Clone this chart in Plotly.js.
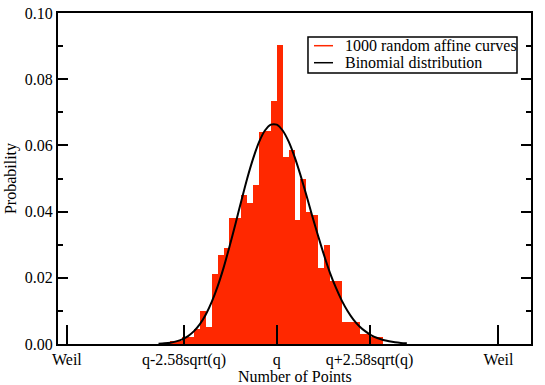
<!DOCTYPE html>
<html>
<head>
<meta charset="utf-8">
<script src="https://cdn.plot.ly/plotly-3.0.1.min.js"></script>
<style>
  html, body { margin: 0; padding: 0; background: #fff; }
  #chart { width: 545px; height: 385px; }
</style>
</head>
<body>
<div id="chart"></div>
<script>
// ── DATA ────────────────────────────────────────────
// histogram: bin centres (number of points) and probabilities
const BIN_X = [
  19.5, 20.5, 21.5, 22.5, 23.5, 24.5, 25.5, 26.5, 27.5, 28.5, 29.5, 30.5,
  31.5, 32.5, 33.5, 34.5, 35.5, 36.5, 37.5, 38.5, 39.5, 40.5, 41.5, 42.5,
  43.5, 44.5, 45.5, 46.5, 47.5, 48.5, 49.5, 50.5, 51.5, 52.5, 53.5, 54.5
];
const BIN_P = [
  0.001, 0.001, 0.002, 0.002, 0.0045, 0.010, 0.005, 0.021, 0.027, 0.029, 0.038, 0.038,
  0.045, 0.0425, 0.048, 0.064, 0.0645, 0.0733, 0.0903, 0.0565, 0.0585, 0.0375, 0.050, 0.040,
  0.039, 0.023, 0.030, 0.019, 0.019, 0.0065, 0.0065, 0.0065, 0.003, 0.003, 0.002, 0.002
];

// binomial curve
const CURVE_X = [
  17, 18, 19, 20, 21, 22, 23, 24, 25, 26, 27, 28, 29, 30, 31, 32, 33, 34, 35, 36, 37, 38,
  39, 40, 41, 42, 43, 44, 45, 46, 47, 48, 49, 50, 51, 52, 53, 54, 55, 56, 57, 58, 59
];
const CURVE_P = [
  0.0001, 0.0002, 0.0004, 0.0008, 0.0014, 0.0024, 0.0039, 0.0060, 0.0089, 0.0127, 0.0174,
  0.0230, 0.0294, 0.0362, 0.0432, 0.0500, 0.0560, 0.0610, 0.0645, 0.0663, 0.0663, 0.0645,
  0.0612, 0.0566, 0.0511, 0.0450, 0.0387, 0.0326, 0.0268, 0.0215, 0.0170, 0.0131, 0.0099,
  0.0073, 0.0053, 0.0038, 0.0026, 0.0018, 0.0012, 0.0008, 0.0005, 0.0003, 0.0002
];

// x ticks: Weil bounds, q ± 2.58 sqrt(q), q  (q = 37)
const X_TICKS  = [1.5, 21.31, 37, 52.69, 74.5];
const X_LABELS = ['Weil', 'q-2.58sqrt(q)', 'q', 'q+2.58sqrt(q)', 'Weil'];

const SERIES_NAMES = ['1000 random affine curves', 'Binomial distribution'];
const SERIES_COLORS = ['#ff2800', '#000'];

// ── STYLE ───────────────────────────────────────────
const FONT = { family: '"Liberation Serif", "DejaVu Serif", serif', color: '#000', size: 16 };

// ── TRACES ──────────────────────────────────────────
const traces = [
  {
    type: 'bar', x: BIN_X, y: BIN_P, width: 1,
    marker: { color: SERIES_COLORS[0], line: { width: 0 } },
    name: SERIES_NAMES[0], hoverinfo: 'skip'
  },
  {
    type: 'scatter', mode: 'lines', x: CURVE_X, y: CURVE_P,
    name: SERIES_NAMES[1],
    line: { color: SERIES_COLORS[1], width: 2, shape: 'spline', smoothing: 0.6 }
  }
];

// ── LEGEND (grace style box, drawn by hand) ─────────
const LEG = { x0: 0.5285, x1: 0.9704, y0: 0.8187, y1: 0.9275, rows: [0.9012, 0.8498] };
const shapes = [
  { type: 'rect', xref: 'paper', yref: 'paper', x0: LEG.x0, x1: LEG.x1, y0: LEG.y0, y1: LEG.y1,
    line: { color: '#000', width: 1.5 }, fillcolor: '#fff', layer: 'above' }
];
const annotations = [];
SERIES_NAMES.forEach((name, i) => {
  shapes.push({ type: 'line', xref: 'paper', yref: 'paper', x0: 0.5412, x1: 0.5814,
    y0: LEG.rows[i], y1: LEG.rows[i], line: { color: SERIES_COLORS[i], width: 1.5 }, layer: 'above' });
  annotations.push({ xref: 'paper', yref: 'paper', x: 0.6025, y: LEG.rows[i],
    xanchor: 'left', yanchor: 'middle', text: name, showarrow: false, font: FONT });
});

// x title placed by hand under the tick labels
annotations.push({ xref: 'paper', yref: 'paper', x: 0.5, y: -0.0967, xanchor: 'center', yanchor: 'middle',
  text: 'Number of Points', showarrow: false, font: FONT });

// ── LAYOUT ──────────────────────────────────────────
const layout = {
  width: 545, height: 385,
  paper_bgcolor: '#fff', plot_bgcolor: '#fff',
  font: FONT,
  margin: { l: 58, r: 14, t: 13, b: 41 },
  bargap: 0,
  showlegend: false,
  shapes, annotations,
  xaxis: {
    range: [0, 80], showgrid: false, zeroline: false,
    showline: true, linecolor: '#000', linewidth: 2, mirror: true,
    tickmode: 'array', tickvals: X_TICKS, ticktext: X_LABELS,
    ticks: 'inside', ticklen: 19, tickwidth: 2, tickcolor: '#000',
    tickfont: FONT
  },
  yaxis: {
    range: [0, 0.1], showgrid: false, zeroline: false,
    showline: true, linecolor: '#000', linewidth: 2, mirror: 'allticks',
    dtick: 0.02, tickformat: '.2f',
    ticks: 'inside', ticklen: 10, tickwidth: 2, tickcolor: '#000',
    minor: { dtick: 0.01, ticks: 'inside', ticklen: 5, tickwidth: 2, tickcolor: '#000' },
    tickfont: FONT,
    title: { text: 'Probability', font: FONT, standoff: 4 }
  }
};

Plotly.newPlot('chart', traces, layout, { displayModeBar: false, staticPlot: true });
</script>
</body>
</html>
